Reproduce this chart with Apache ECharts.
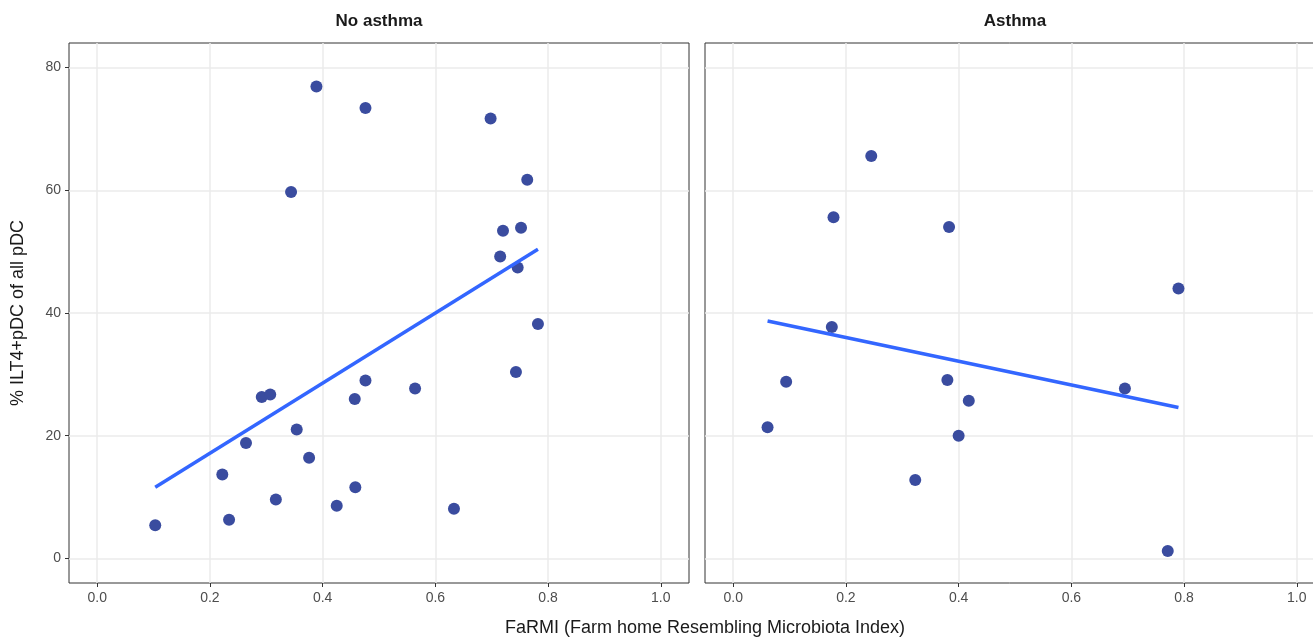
<!DOCTYPE html>
<html>
<head>
<meta charset="utf-8">
<script src="https://cdn.jsdelivr.net/npm/echarts@6/dist/echarts.min.js"></script>
<style>
  html, body { margin: 0; padding: 0; background: #fff; }
  #main { width: 1313px; height: 639px; }
</style>
</head>
<body>
<div id="main"></div>
<script>
// panel names
var panels = ['No asthma', 'Asthma'];

// points: [FaRMI, % ILT4+pDC]
var noAsthmaPoints = [
  [0.103, 5.4], [0.389, 76.9], [0.476, 73.4], [0.698, 71.7], [0.763, 61.7],
  [0.344, 59.7], [0.720, 53.4], [0.752, 53.9], [0.715, 49.2], [0.746, 47.4],
  [0.782, 38.2], [0.743, 30.4], [0.476, 29.0], [0.564, 27.7], [0.292, 26.3],
  [0.307, 26.7], [0.457, 26.0], [0.354, 21.0], [0.264, 18.8], [0.376, 16.4],
  [0.222, 13.7], [0.458, 11.6], [0.317, 9.6], [0.425, 8.6], [0.633, 8.1],
  [0.234, 6.3]
];
var asthmaPoints = [
  [0.245, 65.6], [0.178, 55.6], [0.383, 54.0], [0.175, 37.7], [0.094, 28.8],
  [0.061, 21.4], [0.380, 29.1], [0.418, 25.7], [0.400, 20.0], [0.323, 12.8],
  [0.790, 44.0], [0.695, 27.7], [0.771, 1.2]
];

// fitted lines (end points)
var noAsthmaFit = [[0.103, 11.6], [0.782, 50.4]];
var asthmaFit = [[0.061, 38.7], [0.790, 24.6]];

// tick values
var xTicks = [0, 0.2, 0.4, 0.6, 0.8, 1.0];
var yTicks = [0, 20, 40, 60, 80];

var tickFont = { fontFamily: 'Liberation Sans', fontSize: 14, color: '#4d4d4d' };
var gridLine = { show: true, lineStyle: { color: '#ebebeb', width: 1.5 } };

function xAxisOf(i) {
  return {
    type: 'value', gridIndex: i, min: -0.05, max: 1.05,
    axisLine: { show: false, onZero: false },
    axisTick: { show: true, length: 4, customValues: xTicks, lineStyle: { color: '#333' } },
    axisLabel: Object.assign({ customValues: xTicks, margin: 8,
      formatter: function (v) { return v.toFixed(1); } }, tickFont),
    splitLine: gridLine
  };
}
function yAxisOf(i) {
  return {
    type: 'value', gridIndex: i, min: -4, max: 84,
    axisLine: { show: false, onZero: false },
    axisTick: { show: i === 0, length: 4, customValues: yTicks, lineStyle: { color: '#333' } },
    axisLabel: Object.assign({ show: i === 0, customValues: yTicks, margin: 8 }, tickFont),
    splitLine: gridLine
  };
}

var myChart = echarts.init(document.getElementById('main'));
var opt = {
  animation: false,
  backgroundColor: '#fff',
  grid: [
    { left: 69, top: 43, width: 620, height: 540, show: true, borderColor: '#333', borderWidth: 1,
      outerBoundsMode: 'none' },
    { left: 705, top: 43, width: 620, height: 540, show: true, borderColor: '#333', borderWidth: 1,
      outerBoundsMode: 'none' }
  ],
  xAxis: [xAxisOf(0), xAxisOf(1)],
  yAxis: [yAxisOf(0), yAxisOf(1)],
  graphic: [
    { type: 'text', x: 379, y: 21, style: { text: panels[0], align: 'center', verticalAlign: 'middle',
      font: 'bold 17px "Liberation Sans"', fill: '#1a1a1a' } },
    { type: 'text', x: 1015, y: 21, style: { text: panels[1], align: 'center', verticalAlign: 'middle',
      font: 'bold 17px "Liberation Sans"', fill: '#1a1a1a' } },
    { type: 'text', x: 705, y: 628, style: { text: 'FaRMI (Farm home Resembling Microbiota Index)',
      align: 'center', verticalAlign: 'middle', font: '18px "Liberation Sans"', fill: '#1a1a1a' } },
    { type: 'text', x: 18, y: 313, rotation: Math.PI / 2, style: { text: '% ILT4+pDC of all pDC',
      align: 'center', verticalAlign: 'middle', font: '18px "Liberation Sans"', fill: '#1a1a1a' } }
  ],
  series: [
    { type: 'scatter', xAxisIndex: 0, yAxisIndex: 0, data: noAsthmaPoints, symbolSize: 12,
      itemStyle: { color: '#3a4c9f', opacity: 1 } },
    { type: 'scatter', xAxisIndex: 1, yAxisIndex: 1, data: asthmaPoints, symbolSize: 12,
      itemStyle: { color: '#3a4c9f', opacity: 1 } },
    { type: 'line', xAxisIndex: 0, yAxisIndex: 0, data: noAsthmaFit, symbol: 'none',
      lineStyle: { color: '#3366ff', width: 3.5 }, z: 3 },
    { type: 'line', xAxisIndex: 1, yAxisIndex: 1, data: asthmaFit, symbol: 'none',
      lineStyle: { color: '#3366ff', width: 3.5 }, z: 3 }
  ]
};
myChart.setOption(opt);
</script>
</body>
</html>
